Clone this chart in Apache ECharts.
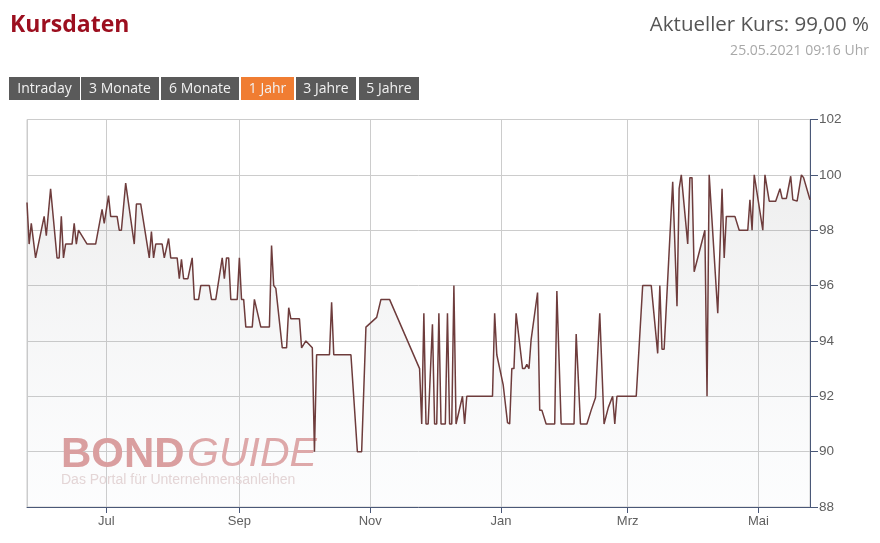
<!DOCTYPE html>
<html><head><meta charset="utf-8">
<script src="https://cdn.jsdelivr.net/npm/echarts@6/dist/echarts.min.js"></script>
<style>html,body{margin:0;padding:0;background:#fff}#c{width:880px;height:543px}</style>
</head><body><div id="c"></div>
<script>
const dates = [
'2020-05-25','2020-05-26','2020-05-27','2020-05-29','2020-06-02','2020-06-03','2020-06-05','2020-06-08','2020-06-09','2020-06-10',
'2020-06-11','2020-06-12','2020-06-15','2020-06-16','2020-06-17','2020-06-18','2020-06-22','2020-06-26','2020-06-29','2020-06-30',
'2020-07-02','2020-07-03','2020-07-06','2020-07-07','2020-07-08','2020-07-10','2020-07-14','2020-07-15','2020-07-17','2020-07-21',
'2020-07-22','2020-07-23','2020-07-24','2020-07-27','2020-07-28','2020-07-30','2020-07-31','2020-08-03','2020-08-04','2020-08-05',
'2020-08-06','2020-08-08','2020-08-10','2020-08-11','2020-08-13','2020-08-14','2020-08-18','2020-08-19','2020-08-21','2020-08-24',
'2020-08-25','2020-08-26','2020-08-27','2020-08-28','2020-08-31','2020-09-01','2020-09-02','2020-09-03','2020-09-04','2020-09-07',
'2020-09-08','2020-09-11','2020-09-15','2020-09-16','2020-09-17','2020-09-18','2020-09-21','2020-09-23','2020-09-24','2020-09-25',
'2020-09-29','2020-09-30','2020-10-02','2020-10-05','2020-10-06','2020-10-07','2020-10-13','2020-10-14','2020-10-15','2020-10-23',
'2020-10-26','2020-10-28','2020-10-30','2020-11-04','2020-11-06','2020-11-10','2020-11-24','2020-11-25','2020-11-26','2020-11-27',
'2020-11-28','2020-11-30','2020-12-01','2020-12-02','2020-12-03','2020-12-04','2020-12-06','2020-12-07','2020-12-08','2020-12-09',
'2020-12-10','2020-12-11','2020-12-14','2020-12-15','2020-12-16','2020-12-28','2020-12-29','2020-12-30','2021-01-02','2021-01-04',
'2021-01-05','2021-01-06','2021-01-07','2021-01-08','2021-01-11','2021-01-12','2021-01-13','2021-01-14','2021-01-15','2021-01-18',
'2021-01-19','2021-01-20','2021-01-22','2021-01-26','2021-01-27','2021-01-29','2021-02-04','2021-02-05','2021-02-07','2021-02-10',
'2021-02-12','2021-02-14','2021-02-16','2021-02-18','2021-02-20','2021-02-22','2021-02-23','2021-02-24','2021-03-05','2021-03-08',
'2021-03-12','2021-03-15','2021-03-16','2021-03-17','2021-03-18','2021-03-22','2021-03-24','2021-03-25','2021-03-26','2021-03-29',
'2021-03-30','2021-03-31','2021-04-01','2021-04-06','2021-04-07','2021-04-08','2021-04-12','2021-04-14','2021-04-15','2021-04-16',
'2021-04-20','2021-04-22','2021-04-26','2021-04-27','2021-04-28','2021-04-29','2021-05-03','2021-05-04','2021-05-06','2021-05-09',
'2021-05-11','2021-05-12','2021-05-14','2021-05-16','2021-05-17','2021-05-19','2021-05-21','2021-05-22','2021-05-25'
];
const values = [
99.0,97.5,98.25,97.0,98.5,97.8,99.5,97.0,97.0,98.5,
97.0,97.5,97.5,98.25,97.5,98.0,97.5,97.5,98.75,98.25,
99.25,98.5,98.5,98.0,98.0,99.7,97.5,98.95,98.95,97.0,
97.95,97.0,97.5,97.5,97.0,97.7,97.0,97.0,96.25,96.95,
96.25,96.25,97.0,95.5,95.5,96.0,96.0,95.5,95.5,97.0,
96.25,97.0,97.0,95.5,95.5,97.0,95.5,95.5,94.5,94.5,
95.5,94.5,94.5,97.45,96.0,95.9,93.75,93.75,95.2,94.8,
94.8,93.75,94.0,93.75,90.0,93.5,93.5,95.4,93.5,93.5,
90.0,90.0,94.5,94.85,95.5,95.5,93.0,91.0,95.0,91.0,
91.0,94.6,91.0,91.0,95.0,91.0,91.0,95.0,91.0,91.0,
96.0,91.0,92.0,91.0,92.0,92.0,95.0,93.5,92.4,91.05,
91.0,93.0,93.0,95.0,93.0,93.0,93.15,93.0,94.05,95.75,
91.5,91.5,91.0,91.0,95.8,91.0,91.0,94.25,91.0,91.0,
91.5,91.95,95.0,91.0,91.6,92.0,91.0,92.0,92.0,96.0,
96.0,93.55,96.0,93.7,93.7,99.75,95.25,99.5,100.0,97.5,
99.9,99.9,96.5,98.0,92.0,100.0,95.0,99.5,97.0,98.5,
98.5,98.0,98.0,99.1,98.0,100.0,98.0,100.0,99.05,99.05,
99.5,99.15,99.15,99.95,99.1,99.05,100.0,99.9,99.1
];
const monthNames = ['Jan','Feb','Mrz','Apr','Mai','Jun','Jul','Aug','Sep','Okt','Nov','Dez'];
const xRange = ['2020-05-25','2021-05-25'];
const yMin = 88, yMax = 102, yStep = 2;
const buttons = ['Intraday','3 Monate','6 Monate','1 Jahr','3 Jahre','5 Jahre'];
const activeButton = '1 Jahr';
const titleText = 'Kursdaten';
const kursText = 'Aktueller Kurs: 99,00 %';
const stampText = '25.05.2021 09:16 Uhr';

// layout (not data)
const btnX = [9, 81, 161, 241, 296, 359];
const btnW = [71, 78, 78, 53, 60, 60];

const toTs = s => Date.parse(s + 'T00:00:00Z');
const seriesData = dates.map((d, i) => [toTs(d), values[i]]);

const graphics = [
  {type:'text', x:10, y:25.5, style:{text:titleText, fill:'#9c0f1f', font:'bold 23px "Open Sans"', verticalAlign:'middle'}},
  {type:'text', x:869, y:25, style:{text:kursText, fill:'#555555', font:'20.5px "Open Sans"', align:'right', verticalAlign:'middle'}},
  {type:'text', x:869, y:51.5, style:{text:stampText, fill:'#a8a8a8', font:'14px "Open Sans"', align:'right', verticalAlign:'middle'}}
];
buttons.forEach((b, i) => {
  graphics.push({type:'rect', shape:{x:btnX[i], y:77, width:btnW[i], height:23},
    style:{fill: b === activeButton ? '#f07d32' : '#5a5a5a'}});
  graphics.push({type:'text', x:btnX[i] + btnW[i]/2, y:89.5,
    style:{text:b, fill:'#f2f2f2', font:'14px "Open Sans"', align:'center', verticalAlign:'middle'}});
});
// watermark
graphics.push({type:'text', x:61, y:455, z:1, style:{text:'BOND', fill:'#dc9c9c', font:'bold 42px "Liberation Sans"', verticalAlign:'middle'}});
graphics.push({type:'text', x:187, y:455, z:1, style:{text:'GUIDE', fill:'#e0a6a6', font:'italic 41px "Liberation Sans"', verticalAlign:'middle'}});
graphics.push({type:'text', x:61, y:480, z:1, style:{text:'Das Portal für Unternehmensanleihen', fill:'#e6d6d6', font:'14px "Liberation Sans"', verticalAlign:'middle'}});

const chart = echarts.init(document.getElementById('c'), null, {renderer:'canvas'});
chart.setOption({
  animation:false,
  useUTC:true,
  backgroundColor:'#ffffff',
  grid:{left:27, right:70, top:119.5, bottom:36, show:true, borderColor:'#cccccc', borderWidth:1, backgroundColor:'transparent'},
  graphic:graphics,
  xAxis:{
    type:'time', min:toTs(xRange[0]), max:toTs(xRange[1]), splitNumber:6,
    axisLine:{show:true, lineStyle:{color:'#4a5878', width:1}},
    axisTick:{show:true, length:6, lineStyle:{color:'#4a5878'}},
    axisLabel:{formatter:v => monthNames[new Date(v).getUTCMonth()], color:'#606060', fontSize:13, margin:8, fontFamily:'"Liberation Sans", Arial, sans-serif'},
    splitLine:{show:true, lineStyle:{color:'#cccccc', width:1}}
  },
  yAxis:{
    type:'value', position:'right', min:yMin, max:yMax, interval:yStep,
    axisLine:{show:true, lineStyle:{color:'#4a5878', width:1}},
    axisTick:{show:true, length:8, lineStyle:{color:'#4a5878'}},
    axisLabel:{color:'#606060', fontSize:13.5, margin:9, fontFamily:'"Liberation Sans", Arial, sans-serif'},
    splitLine:{show:true, lineStyle:{color:'#cccccc', width:1}}
  },
  series:[{
    type:'line', data:seriesData, showSymbol:false, z:2,
    lineStyle:{color:'#6e3c3c', width:1.5},
    areaStyle:{origin:'start', color:new echarts.graphic.LinearGradient(0,0,0,1,[
      {offset:0, color:'rgba(120,120,120,0.18)'},
      {offset:1, color:'rgba(200,210,225,0.08)'}
    ])}
  }]
});
</script></body></html>
